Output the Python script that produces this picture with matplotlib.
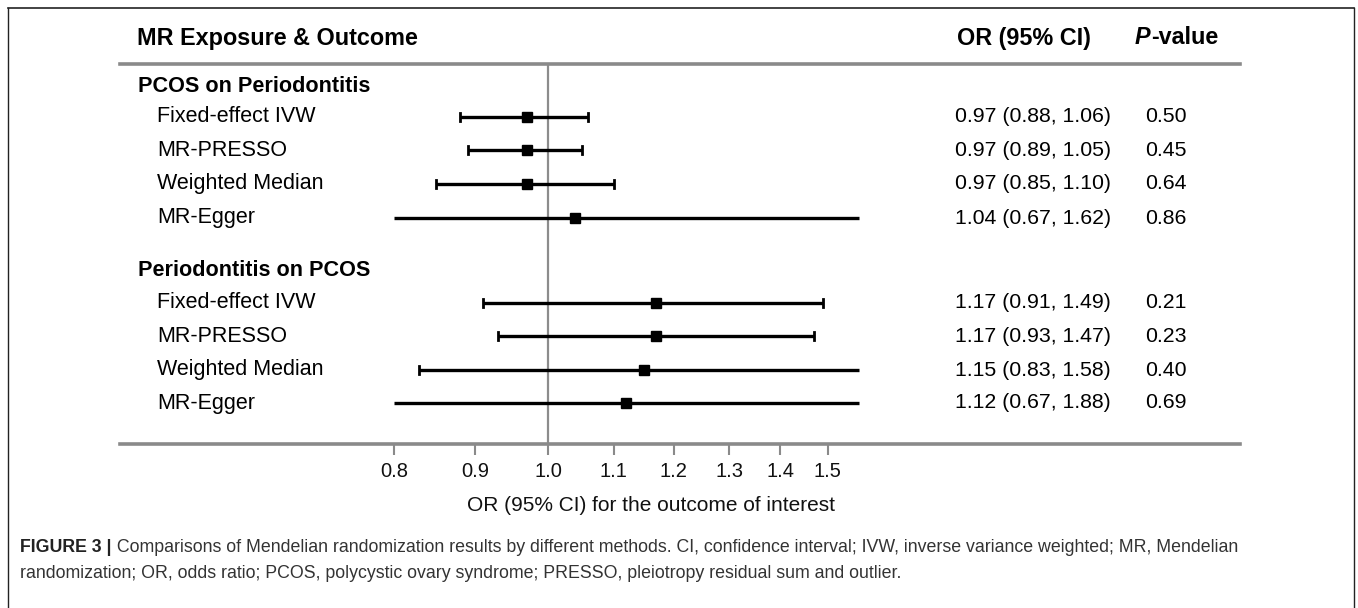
import numpy as np
import matplotlib
matplotlib.use("Agg")
import matplotlib.pyplot as plt
from matplotlib.lines import Line2D

plt.rcParams['font.family'] = ['Liberation Sans', 'DejaVu Sans']

# ---------------- data ----------------
header_left = "MR Exposure & Outcome"
header_or = "OR (95% CI)"
groups = ["PCOS on Periodontitis", "Periodontitis on PCOS"]
methods = ["Fixed-effect IVW", "MR-PRESSO", "Weighted Median", "MR-Egger"]
or_g1 = [0.97, 0.97, 0.97, 1.04]
lo_g1 = [0.88, 0.89, 0.85, 0.67]
hi_g1 = [1.06, 1.05, 1.10, 1.62]
p_g1 = [0.50, 0.45, 0.64, 0.86]
or_g2 = [1.17, 1.17, 1.15, 1.12]
lo_g2 = [0.91, 0.93, 0.83, 0.67]
hi_g2 = [1.49, 1.47, 1.58, 1.88]
p_g2 = [0.21, 0.23, 0.40, 0.69]
xticks = [0.8, 0.9, 1.0, 1.1, 1.2, 1.3, 1.4, 1.5]
xticklabels = ["0.8", "0.9", "1.0", "1.1", "1.2", "1.3", "1.4", "1.5"]
xlabel = "OR (95% CI) for the outcome of interest"
clip_lo, clip_hi = 0.8, 1.57
caption_bold = "FIGURE 3 |"
caption_1 = (" Comparisons of Mendelian randomization results by different methods. "
             "CI, confidence interval; IVW, inverse variance weighted; MR, Mendelian")
caption_2 = ("randomization; OR, odds ratio; PCOS, polycystic ovary syndrome; "
             "PRESSO, pleiotropy residual sum and outlier.")

# ---------------- layout (pixel based) ----------------
W, H = 1358, 608
fig = plt.figure(figsize=(W / 100, H / 100), dpi=100)

def fx(px):
    return px / W

def fy(py):
    return 1 - py / H

ax_l, ax_r, ax_t, ax_b = 120, 1240, 64, 444
ax = fig.add_axes([fx(ax_l), fy(ax_b), (ax_r - ax_l) / W, (ax_b - ax_t) / H])

one_px, ppu = 548, 690.0  # pixel of OR=1 and pixels per ln unit
ax.set_xscale('log')
ax.set_xlim(np.exp((ax_l - one_px) / ppu), np.exp((ax_r - one_px) / ppu))
ax.set_ylim(ax_b, ax_t)

group_y = [86, 270]
rows_y = [[117, 150, 184, 218], [303, 336, 370, 403]]

ax.axvline(1.0, color='#8c8c8c', lw=1.6, zorder=1)

gray = '#8a8a8a'
for s in ['left', 'right']:
    ax.spines[s].set_visible(False)
for s in ['top', 'bottom']:
    ax.spines[s].set_color(gray)
    ax.spines[s].set_linewidth(2.6)

ax.set_yticks([])
ax.set_xticks(xticks)
ax.set_xticklabels(xticklabels)
ax.xaxis.set_minor_locator(matplotlib.ticker.NullLocator())
ax.tick_params(axis='x', which='major', direction='out', length=8, width=1.5,
               color=gray, labelsize=14.5, pad=5, labelcolor='#111111')
ax.set_xlabel(xlabel, fontsize=15, labelpad=11, color='#111111')
ax.xaxis.label.set_x((651 - ax_l) / (ax_r - ax_l))

cap_h = 4
all_or = [or_g1, or_g2]
all_lo = [lo_g1, lo_g2]
all_hi = [hi_g1, hi_g2]
for g in range(2):
    for i in range(4):
        y = rows_y[g][i]
        o, lo, hi = all_or[g][i], all_lo[g][i], all_hi[g][i]
        a, b = max(lo, clip_lo), min(hi, clip_hi)
        ax.plot([a, b], [y, y], color='black', lw=2.4, solid_capstyle='butt', zorder=3)
        if lo >= clip_lo:
            ax.plot([lo, lo], [y - cap_h, y + cap_h], color='black', lw=2.0, zorder=3)
        if hi <= clip_hi:
            ax.plot([hi, hi], [y - cap_h, y + cap_h], color='black', lw=2.0, zorder=3)
        ax.plot([o], [y], marker='s', ms=7.5, color='black', zorder=4)

# ---------------- text columns ----------------
fs_head = 16.8
fs_grp = 15.6
fs_lab = 15.5
fs_num = 15.3
fig.text(fx(137), fy(38), header_left, fontsize=fs_head, fontweight='bold', va='center')
fig.text(fx(957), fy(38), header_or, fontsize=fs_head, fontweight='bold', va='center')
tP = fig.text(fx(1135), fy(38), "P", fontsize=fs_head, fontweight='bold', style='italic', va='center')
fig.canvas.draw()
bb = tP.get_window_extent(fig.canvas.get_renderer())
fig.text(bb.x1 / W, fy(38), "-value", fontsize=fs_head, fontweight='bold', va='center')

all_p = [p_g1, p_g2]
for g in range(2):
    fig.text(fx(138), fy(group_y[g]), groups[g], fontsize=fs_grp, fontweight='bold', va='center')
    for i in range(4):
        y = rows_y[g][i]
        fig.text(fx(157), fy(y), methods[i], fontsize=fs_lab, va='center')
        s = f"{all_or[g][i]:.2f} ({all_lo[g][i]:.2f}, {all_hi[g][i]:.2f})"
        fig.text(fx(955), fy(y), s, fontsize=fs_num, va='center')
        fig.text(fx(1145), fy(y), f"{all_p[g][i]:.2f}", fontsize=fs_num, va='center')

# ---------------- caption & frame ----------------
fs_cap = 12.8
cap_color = '#333333'
tb = fig.text(fx(20), fy(548), caption_bold, fontsize=fs_cap, fontweight='bold',
              color='#222222', va='center')
fig.canvas.draw()
bb2 = tb.get_window_extent(fig.canvas.get_renderer())
fig.text(bb2.x1 / W, fy(548), caption_1, fontsize=fs_cap, color=cap_color, va='center')
fig.text(fx(20), fy(573), caption_2, fontsize=fs_cap, color=cap_color, va='center')

frame_c = '#222222'
fig.add_artist(Line2D([fx(8), fx(1354)], [fy(8), fy(8)], color=frame_c, lw=1.2, transform=fig.transFigure))
fig.add_artist(Line2D([fx(8), fx(8)], [fy(8), 0], color=frame_c, lw=1.0, transform=fig.transFigure))
fig.add_artist(Line2D([fx(1354), fx(1354)], [fy(8), 0], color=frame_c, lw=1.0, transform=fig.transFigure))

fig.savefig("out.png", dpi=100)
